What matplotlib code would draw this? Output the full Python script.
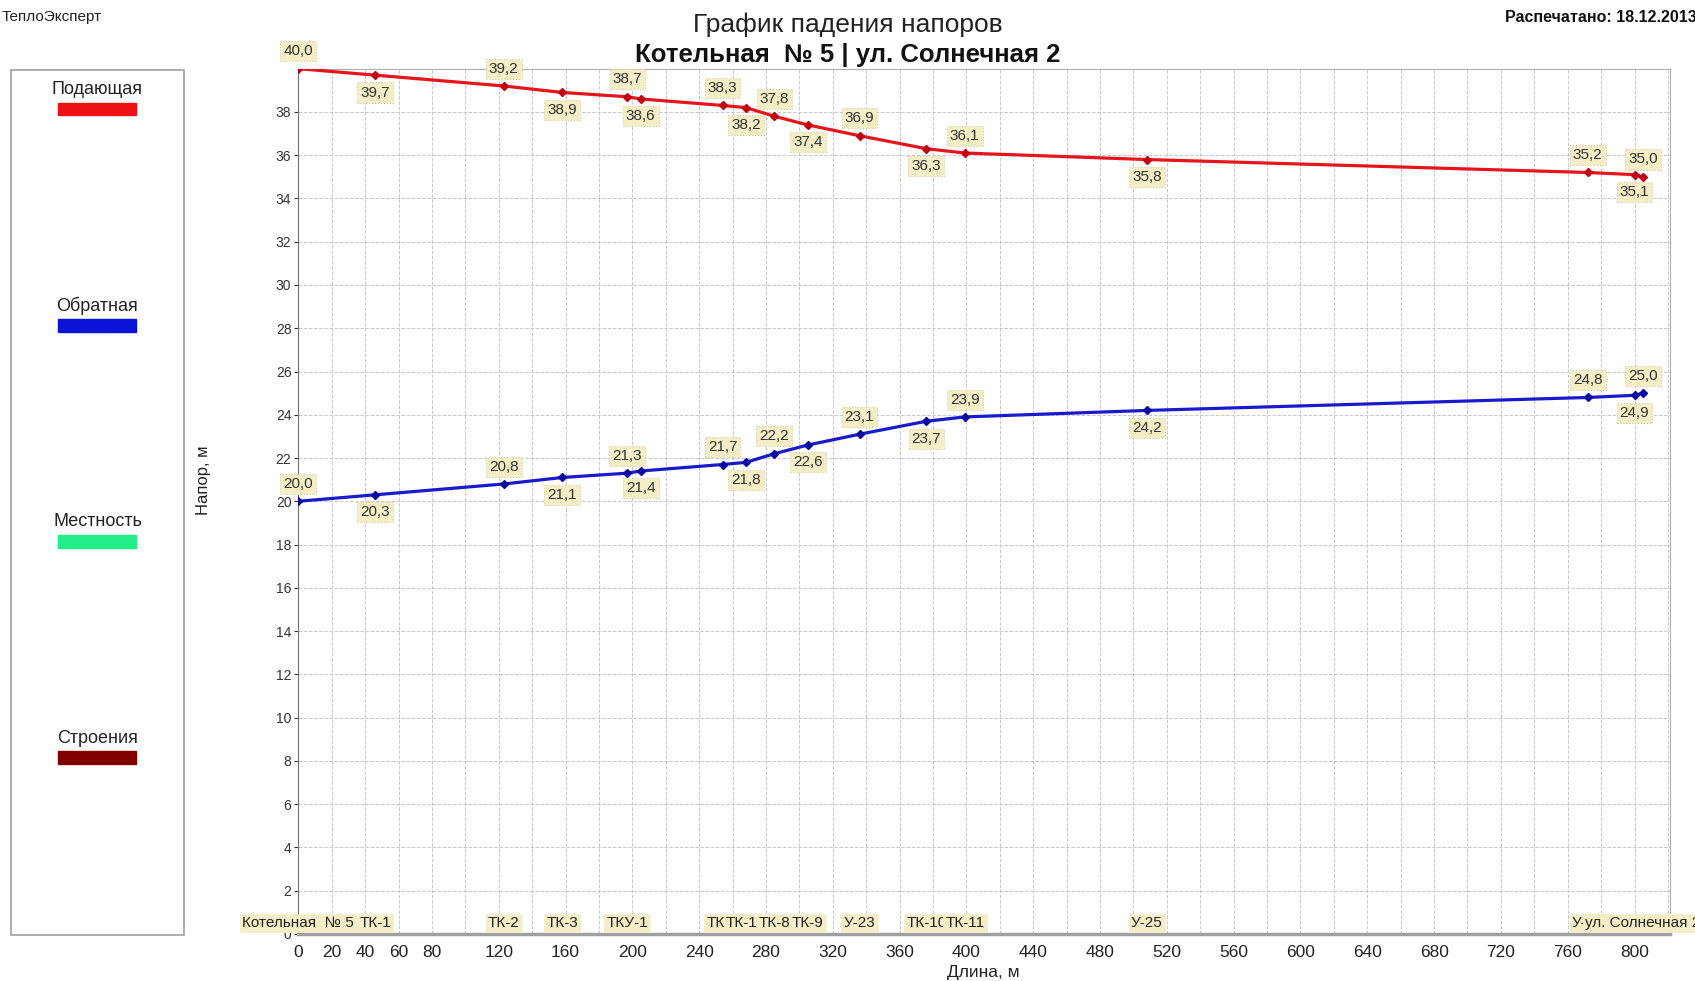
import matplotlib.pyplot as plt
import matplotlib.patches as patches

plt.rcParams['font.family'] = ['Liberation Sans', 'DejaVu Sans']

# Distances along the route, m
dist = [0, 46, 123, 158, 197, 205, 254, 268, 285, 305, 336, 376, 399, 508, 772, 800, 805]
# Heads, m
supply = [40.0, 39.7, 39.2, 38.9, 38.7, 38.6, 38.3, 38.2, 37.8, 37.4, 36.9, 36.3, 36.1, 35.8, 35.2, 35.1, 35.0]
ret = [20.0, 20.3, 20.8, 21.1, 21.3, 21.4, 21.7, 21.8, 22.2, 22.6, 23.1, 23.7, 23.9, 24.2, 24.8, 24.9, 25.0]
# Node names along the bottom
nodes = ["Котельная  № 5", "ТК-1", "ТК-2", "ТК-3", "ТКУ-1", "", "ТК-4", "ТК-12", "ТК-8", "ТК-9",
         "У-23", "ТК-10", "ТК-11", "У-25", "У-26", "", "ул. Солнечная 2"]

xticks = [0, 20, 40, 60, 80] + list(range(120, 801, 40))
yticks = list(range(0, 39, 2))

legend_names = ["Подающая", "Обратная", "Местность", "Строения"]
legend_colors = ["#ee1111", "#0a14d8", "#22ee88", "#800000"]

box_fc = "#f3eec6"
box_ec = "#d6cfa0"

fig = plt.figure(figsize=(16.95, 9.81), dpi=100)
ax = fig.add_axes([0.176, 0.048, 0.809, 0.882])

ax.plot(dist, supply, color="#e8141c", lw=2.3, marker="D", ms=4.5,
        mfc="#c00010", mec="#c00010", zorder=3)
ax.plot(dist, ret, color="#1a1acd", lw=2.3, marker="D", ms=4.5,
        mfc="#0a0aa0", mec="#0a0aa0", zorder=3)

# value labels, alternating above / below
for series in (supply, ret):
    for i, (x, y) in enumerate(zip(dist, series)):
        off = 12.5 if i % 2 == 0 else -12.5
        ax.annotate(f"{y:.1f}".replace(".", ","), (x, y), xytext=(0, off),
                    textcoords="offset points", ha="center", va="center",
                    fontsize=11, color="#333333", zorder=5,
                    bbox=dict(boxstyle="square,pad=0.2", fc=box_fc, ec=box_ec, ls=":", lw=0.8))

# node names
for x, name in zip(dist, nodes):
    if name:
        ax.text(x, 0.5, name, ha="center", va="center", fontsize=11, color="#222222",
                clip_on=False, zorder=6,
                bbox=dict(boxstyle="square,pad=0.15", fc=box_fc, ec=box_fc, lw=0.5))

ax.set_xlim(0, 821)
ax.set_ylim(0, 40)
ax.set_xticks(xticks)
ax.set_yticks(yticks)
ax.set_xticks(range(20, 821, 20), minor=True)
ax.tick_params(axis="x", labelsize=12.5, length=0, pad=8, colors="#222222", which="both")
ax.tick_params(axis="y", labelsize=10, length=3, pad=2, colors="#333333")
ax.grid(True, which="both", axis="x", color="#c8c8c8", ls="--", lw=0.7)
ax.grid(True, axis="y", color="#c8c8c8", ls="--", lw=0.7)
for s in ("top", "right"):
    ax.spines[s].set_color("#b0b0b0")
ax.spines["left"].set_color("#707070")
ax.spines["bottom"].set_color("#a0a0a0")
ax.spines["bottom"].set_linewidth(2.5)

fig.text(0.12, 0.51, "Напор, м", rotation=90, ha="center", va="center", fontsize=12, color="#222222")
fig.text(0.58, 0.009, "Длина, м", ha="center", va="center", fontsize=12.5, color="#222222")

fig.text(0.5, 0.975, "График падения напоров", ha="center", va="center", fontsize=19, color="#222222")
fig.text(0.5, 0.944, "Котельная  № 5 | ул. Солнечная 2", ha="center", va="center",
         fontsize=18.5, fontweight="bold", color="#111111")
fig.text(0.001, 0.983, "ТеплоЭксперт", ha="left", va="center", fontsize=11, color="#222222")
fig.text(0.888, 0.982, "Распечатано: 18.12.2013", ha="left", va="center", fontsize=11.5,
         fontweight="bold", color="#111111")

# legend panel on the left
fig.add_artist(patches.Rectangle((0.0065, 0.047), 0.102, 0.882, transform=fig.transFigure,
                                 fill=False, ec="#a0a0a0", lw=1.2))
for k, (name, col) in enumerate(zip(legend_names, legend_colors)):
    ty = 0.909 - k * 0.2205
    fig.text(0.0575, ty, name, ha="center", va="center", fontsize=13, color="#222222")
    fig.add_artist(patches.Rectangle((0.0345, ty - 0.0265), 0.046, 0.013, transform=fig.transFigure,
                                     fc=col, ec=col))

fig.savefig("out.png", dpi=100)
